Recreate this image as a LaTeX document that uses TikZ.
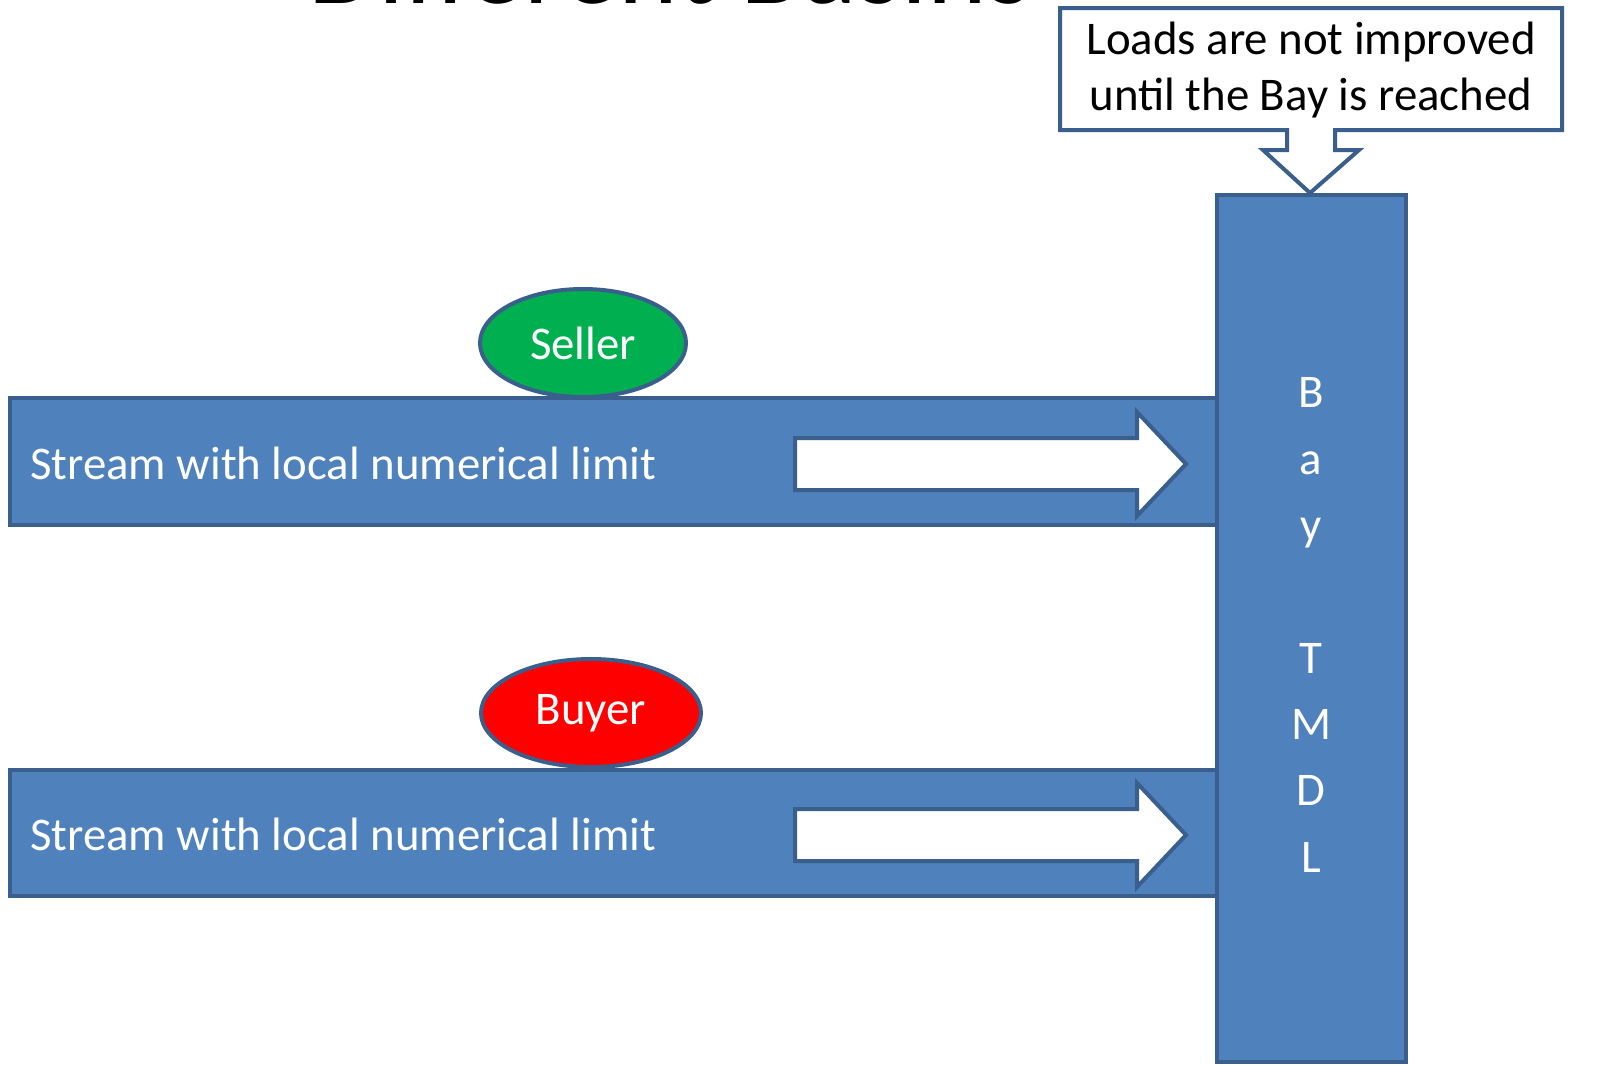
\documentclass[tikz,border=0pt]{standalone}
\usepackage{fontspec}
\setmainfont{Carlito}
\usetikzlibrary{shapes.geometric}
\definecolor{boxblue}{HTML}{4F81BD}
\definecolor{edgeblue}{HTML}{3A5F8C}
\definecolor{sellgreen}{HTML}{00B050}
\begin{document}
\begin{tikzpicture}[x=1bp,y=-1bp,
  bluebox/.style={draw=edgeblue,fill=boxblue,line width=4bp,inner sep=0pt},
  whiteshape/.style={draw=edgeblue,fill=white,line width=4bp,line join=miter},
  party/.style={ellipse,draw=edgeblue,line width=4bp,text=white,inner sep=0pt,font=\fontsize{47}{56}\selectfont},
  streamtext/.style={text=white,anchor=west,inner sep=0pt,font=\fontsize{47}{56}\selectfont},
]
\useasboundingbox (0,0) rectangle (1602,1064);
% partially visible title
\begin{scope}
\clip (0,0) rectangle (1602,1064);
\node[anchor=base,inner sep=0pt,font=\fontsize{114}{130}\selectfont] (title) at (670,3) {Different Basins};
\end{scope}
% Bay TMDL column
\node[bluebox,minimum width=189bp,minimum height=867bp] (bay) at (1311.5,628.5) {};
\node[text=white,align=center,inner sep=0pt,font=\fontsize{47}{66.6}\selectfont] (baytext) at (1311,625) {B\\a\\y\\\mbox{}\\T\\M\\D\\L};
% streams
\node[bluebox,minimum width=1207bp,minimum height=127bp] (s1) at (613.5,461.5) {};
\node[bluebox,minimum width=1207bp,minimum height=126bp] (s2) at (613.5,833) {};
\node[streamtext] (t1) at (30,463) {Stream with local numerical limit};
\node[streamtext] (t2) at (30,834) {Stream with local numerical limit};
% block arrows
\draw[whiteshape] (795,438) -- (1137,438) -- (1137,412) -- (1186,464) -- (1137,516) -- (1137,490) -- (795,490) -- cycle;
\draw[whiteshape] (795,809) -- (1137,809) -- (1137,783) -- (1186,835) -- (1137,887) -- (1137,861) -- (795,861) -- cycle;
% parties
\node[party,fill=sellgreen,minimum width=206bp,minimum height=108bp] (seller) at (583,343) {Seller};
\node[party,fill=red,minimum width=220bp,minimum height=108bp] (buyer) at (591,713) {Buyer};
% callout
\draw[whiteshape] (1060,8) -- (1562,8) -- (1562,130) -- (1335,130) -- (1335,150) -- (1359,150) -- (1310,193) -- (1263,150) -- (1287,150) -- (1287,130) -- (1060,130) -- cycle;
\node[align=center,inner sep=0pt,font=\fontsize{47}{56}\selectfont] (note) at (1311,70) {Loads are not improved\\until the Bay is reached};
\end{tikzpicture}
\end{document}
